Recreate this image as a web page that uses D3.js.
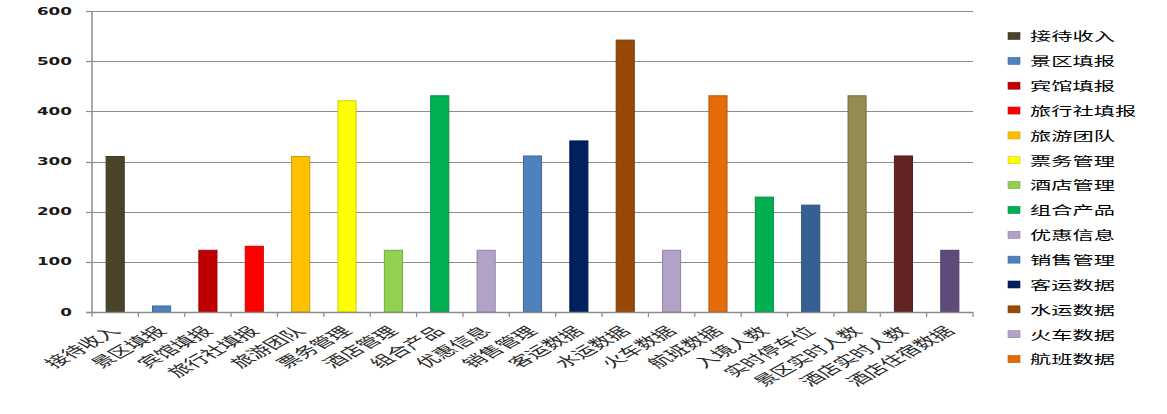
<!DOCTYPE html>
<html>
<head>
<meta charset="utf-8">
<script src="https://cdn.jsdelivr.net/npm/d3@7"></script>
<style>
  html, body { margin: 0; padding: 0; background: #fff; }
  svg { display: block; }
</style>
</head>
<body>
<svg id="chart" width="1167" height="414"></svg>
<script>
const categories = ["接待收入","景区填报","宾馆填报","旅行社填报","旅游团队","票务管理","酒店管理","组合产品","优惠信息","销售管理","客运数据","水运数据","火车数据","航班数据","入境人数","实时停车位","景区实时人数","酒店实时人数","酒店住宿数据"];
const values = [310, 12, 123, 131, 310, 421, 123, 431, 123, 311, 341, 542, 123, 431, 229, 213, 431, 311, 123];
const colors = ["#4A452A","#4F81BD","#C00000","#FF0000","#FFC000","#FFFF00","#92D050","#00B050","#B2A2C7","#4F81BD","#002060","#984807","#B2A2C7","#E36C09","#00B050","#366092","#948A54","#632523","#604A7B"];
const yTicks = [0, 100, 200, 300, 400, 500, 600];
const legendCount = 14;

(function () {
const svg = d3.select("#chart");
const pL = 92, pR = 973, pT = 11, pB = 312;

const x = d3.scaleBand().domain(categories).range([pL, pR]).paddingInner(0.61).paddingOuter(0.305);
const xb = d3.scaleBand().domain(categories).range([pL, pR]).padding(0);
const y = d3.scaleLinear().domain([0, 600]).range([pB, pT]);

// gridlines
svg.append("g").selectAll("line").data(yTicks.filter(d => d > 0)).join("line")
  .attr("x1", pL).attr("x2", pR)
  .attr("y1", d => Math.round(y(d)) + 0.5).attr("y2", d => Math.round(y(d)) + 0.5)
  .attr("stroke", "#8c8c8c").attr("stroke-width", 1.2);

// bars
svg.append("g").selectAll("rect").data(categories).join("rect")
  .attr("x", d => x(d))
  .attr("y", (d, i) => y(values[i]))
  .attr("width", x.bandwidth())
  .attr("height", (d, i) => pB - y(values[i]))
  .attr("fill", (d, i) => colors[i])
  .attr("stroke", (d, i) => d3.color(colors[i]).darker(0.6))
  .attr("stroke-width", 1);

// y axis
const ya = svg.append("g");
ya.append("line").attr("x1", pL).attr("x2", pL).attr("y1", pT).attr("y2", pB)
  .attr("stroke", "#8c8c8c").attr("stroke-width", 1.5);
ya.selectAll("line.t").data(yTicks).join("line").attr("class", "t")
  .attr("x1", pL - 6).attr("x2", pL)
  .attr("y1", d => Math.round(y(d)) + 0.5).attr("y2", d => Math.round(y(d)) + 0.5)
  .attr("stroke", "#8c8c8c").attr("stroke-width", 1.2);
ya.selectAll("text").data(yTicks).join("text")
  .attr("x", 72).attr("y", d => y(d))
  .attr("text-anchor", "end").attr("dominant-baseline", "central")
  .attr("font-family", "DejaVu Sans, Verdana, sans-serif").attr("font-weight", "bold")
  .attr("font-size", 11).attr("fill", "#1a1a1a")
  .attr("textLength", d => String(d).length * 11.7)
  .attr("lengthAdjust", "spacingAndGlyphs")
  .text(d => d);

// x axis
const xa = svg.append("g");
xa.append("line").attr("x1", pL - 6).attr("x2", pR).attr("y1", pB + 0.5).attr("y2", pB + 0.5)
  .attr("stroke", "#8c8c8c").attr("stroke-width", 1.5);
const bounds = categories.map(d => xb(d)).concat([pR]);
xa.selectAll("line.t").data(bounds).join("line").attr("class", "t")
  .attr("x1", d => d).attr("x2", d => d)
  .attr("y1", pB).attr("y2", pB + 5)
  .attr("stroke", "#8c8c8c").attr("stroke-width", 1.2);
xa.selectAll("g.lab").data(categories).join("g").attr("class", "lab")
  .attr("transform", d => `translate(${x(d) + x.bandwidth() / 2 + 6},332) scale(1.8,1) rotate(-45)`)
  .append("text")
  .attr("text-anchor", "end")
  .attr("font-family", "Noto Sans CJK SC, sans-serif")
  .attr("font-size", 13).attr("fill", "#2a2a2a")
  .text(d => d);

// legend
const lg = svg.append("g");
const legendItems = categories.slice(0, legendCount);
const ly = i => 36 + i * 24.85;
lg.selectAll("rect").data(legendItems).join("rect")
  .attr("x", 1008).attr("y", (d, i) => ly(i) - 3.5)
  .attr("width", 12).attr("height", 7)
  .attr("fill", (d, i) => colors[i])
  .attr("stroke", (d, i) => d3.color(colors[i]).darker(0.6)).attr("stroke-width", 0.6);
lg.selectAll("g.li").data(legendItems).join("g").attr("class", "li")
  .attr("transform", (d, i) => `translate(1030,${ly(i)}) scale(1.7,1)`)
  .append("text")
  .attr("dominant-baseline", "central")
  .attr("font-family", "Noto Sans CJK SC, sans-serif")
  .attr("font-size", 12.5).attr("fill", "#000")
  .text(d => d);
})();
</script>
</body>
</html>
